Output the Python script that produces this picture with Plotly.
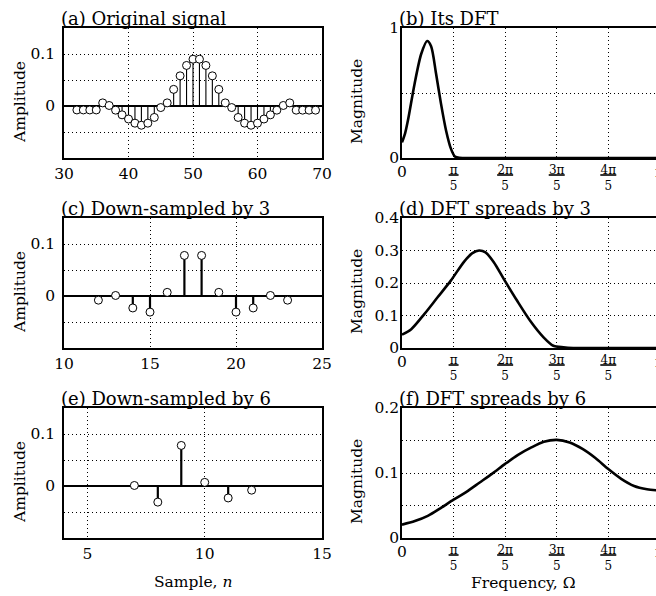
import math
import plotly.graph_objects as go

# ---------------- data ----------------
# (a) original signal, samples n = 32..69
n_a = list(range(32, 70))
x_a = [-0.0076, -0.0076, -0.0076, -0.0076, 0.006, 0.001, -0.008, -0.017, -0.025, -0.033,
       -0.037, -0.033, -0.022, -0.003, 0.006, 0.032, 0.058, 0.078, 0.090, 0.090,
       0.078, 0.058, 0.032, 0.006, -0.003, -0.022, -0.033, -0.037, -0.033, -0.025,
       -0.017, -0.008, 0.001, 0.006, -0.008, -0.008, -0.008, -0.008]

# (c) down-sampled by 3
n_c = list(range(12, 24))
x_c = [-0.008, 0.001, -0.023, -0.031, 0.007, 0.078, 0.078, 0.007, -0.031, -0.023, 0.001, -0.008]

# (e) down-sampled by 6
n_e = list(range(7, 13))
x_e = [0.001, -0.031, 0.078, 0.007, -0.023, -0.008]

# DFT magnitudes, frequency in units of pi
w_b = [0, 0.012, 0.0231, 0.0487, 0.0744, 0.0974, 0.1128, 0.132, 0.151, 0.171, 0.190, 0.205, 0.222, 0.25, 0.5, 1.0]
m_b = [0.12, 0.19, 0.29, 0.57, 0.80, 0.90, 0.86, 0.65, 0.42, 0.21, 0.07, 0.012, 0.001, 0, 0, 0]

w_d = [0, 0.0359, 0.0872, 0.138, 0.190, 0.241, 0.273, 0.299, 0.324, 0.356, 0.395, 0.446,
       0.497, 0.549, 0.587, 0.626, 0.664, 0.75, 1.0]
m_d = [0.041, 0.058, 0.105, 0.156, 0.208, 0.266, 0.292, 0.300, 0.294, 0.264, 0.212, 0.146,
       0.084, 0.033, 0.007, 0.002, 0, 0, 0]

w_f = [0, 0.05, 0.1, 0.15, 0.2, 0.25, 0.3, 0.35, 0.4, 0.45, 0.5, 0.55, 0.6, 0.65, 0.7,
       0.75, 0.8, 0.85, 0.9, 0.95, 1.0]
m_f = [0.0205, 0.026, 0.034, 0.046, 0.059, 0.071, 0.085, 0.099, 0.114, 0.128, 0.139, 0.148, 0.151,
       0.147, 0.137, 0.123, 0.106, 0.091, 0.080, 0.075, 0.073]

titles = ["(a) Original signal", "(b) Its DFT", "(c) Down-sampled by 3",
          "(d) DFT spreads by 3", "(e) Down-sampled by 6", "(f) DFT spreads by 6"]
freq_ticks = [0, 1, 2, 3, 4]          # multiples of pi/5
freq_num = ["", "π", "2π", "3π", "4π"]
freq_den = "5"
bar_half = [0, 5, 8, 8, 8]            # half-width of fraction bars (px)

# ---------------- figure ----------------
FONT = "DejaVu Serif"
W, H = 656, 596
fig = go.Figure()

LEFT = [64 / W, 322 / W]
RIGHT = [402 / W, 1.0]
ROWS = [[1 - 158 / H, 1 - 28 / H], [1 - 348 / H, 1 - 218 / H], [1 - 538 / H, 1 - 408 / H]]
XMAX = 0.985 * math.pi


def stems(n, v, xa, ya, lw):
    xs, ys = [], []
    for a, b in zip(n, v):
        xs += [a, a, None]
        ys += [0, b, None]
    fig.add_trace(go.Scatter(x=xs, y=ys, mode="lines", line=dict(color="black", width=lw),
                             xaxis=xa, yaxis=ya, showlegend=False, hoverinfo="skip"))
    fig.add_trace(go.Scatter(x=n, y=v, mode="markers",
                             marker=dict(symbol="circle", size=8, color="white",
                                         line=dict(color="black", width=1)),
                             xaxis=xa, yaxis=ya, showlegend=False, cliponaxis=False))


def curve(w, m, xa, ya):
    fig.add_trace(go.Scatter(x=[a * math.pi for a in w], y=m, mode="lines",
                             line=dict(color="black", width=2.6, shape="spline", smoothing=0.8),
                             xaxis=xa, yaxis=ya, showlegend=False))


stems(n_a, x_a, "x", "y", 1.1)
curve(w_b, m_b, "x2", "y2")
stems(n_c, x_c, "x3", "y3", 2.2)
curve(w_d, m_d, "x4", "y4")
stems(n_e, x_e, "x5", "y5", 2.2)
curve(w_f, m_f, "x6", "y6")

tickfont = dict(family=FONT, size=15.5, color="black")
common = dict(showline=True, linecolor="black", linewidth=1.5, showgrid=True,
              gridcolor="black", gridwidth=1, griddash="1px,3px", ticks="",
              zeroline=False, tickfont=tickfont, fixedrange=True, automargin=False)

layout_axes = {}
x_left = [dict(range=[30, 70], tickvals=[30, 40, 50, 60, 70]),
          dict(range=[10, 25], tickvals=[10, 15, 20, 25]),
          dict(range=[4, 15], tickvals=[5, 10, 15])]
y_right = [dict(range=[0, 1], tickvals=[0, 0.5, 1], ticktext=["0", "", "1"]),
           dict(range=[0, 0.4], tickvals=[0, 0.1, 0.2, 0.3, 0.4], ticktext=["0", "0.1", "0.2", "0.3", "0.4"]),
           dict(range=[0, 0.2], tickvals=[0, 0.05, 0.1, 0.15, 0.2], ticktext=["0", "", "0.1", "", "0.2"])]

freq_text = [("%s<br>%s" % (nm, freq_den)) if nm else "" for nm in freq_num]

for r in range(3):
    il = 2 * r + 1
    ir = 2 * r + 2
    sl = "" if il == 1 else str(il)
    sr = str(ir)
    layout_axes["xaxis" + sl] = dict(common, domain=LEFT, anchor="y" + sl, mirror=True,
                                     ticklabelstandoff=1, **x_left[r])
    layout_axes["yaxis" + sl] = dict(common, domain=ROWS[r], anchor="x" + sl, mirror=True,
                                     range=[-0.1, 0.15], tickvals=[-0.05, 0, 0.05, 0.1],
                                     ticktext=["", "0", "", "0.1"], ticklabelstandoff=4,
                                     zeroline=True, zerolinecolor="black", zerolinewidth=2)
    layout_axes["xaxis" + sr] = dict(common, domain=RIGHT, anchor="y" + sr, mirror=True,
                                     range=[0, XMAX],
                                     tickvals=[k * math.pi / 5 for k in freq_ticks],
                                     ticktext=freq_text, ticklabelstandoff=0,
                                     tickfont=dict(family=FONT, size=12, color="black"))
    layout_axes["yaxis" + sr] = dict(common, domain=ROWS[r], anchor="x" + sr, mirror=False,
                                     ticklabelstandoff=-2, **y_right[r])

annotations = []
shapes = []
axis_ids = ["", "2", "3", "4", "5", "6"]
for i, t in enumerate(titles):
    a = axis_ids[i]
    annotations.append(dict(text=t, xref=("x" + a + " domain"), yref=("y" + a + " domain"),
                            x=0, y=1, xanchor="left", yanchor="bottom", xshift=-5, yshift=-3,
                            showarrow=False, font=dict(family=FONT, size=18, color="black")))
    lab = "Amplitude" if i % 2 == 0 else "Magnitude"
    annotations.append(dict(text=lab, xref=("x" + a + " domain"), yref=("y" + a + " domain"),
                            x=0, y=0.5, xanchor="center", yanchor="middle", textangle=-90,
                            xshift=(-44 if i % 2 == 0 else -45), yshift=-9, showarrow=False,
                            font=dict(family=FONT, size=15.5, color="black")))
    if i % 2 == 1:
        # "0" label at origin and clipped "π" label at the right edge
        annotations.append(dict(text="0", xref=("x" + a + " domain"), yref=("y" + a + " domain"),
                                x=0, y=0, xanchor="center", yanchor="top", yshift=-3,
                                showarrow=False, font=dict(family=FONT, size=15.5, color="black")))
        annotations.append(dict(text="π", xref=("x" + a + " domain"), yref=("y" + a + " domain"),
                                x=math.pi / XMAX, y=0, xanchor="center", yanchor="top", yshift=-3,
                                showarrow=False, font=dict(family=FONT, size=15.5, color="black")))
        for k, hw in zip(freq_ticks, bar_half):
            if hw == 0:
                continue
            xd = (k * math.pi / 5) / XMAX
            shapes.append(dict(type="line", xref=("x" + a + " domain"), yref=("y" + a + " domain"),
                               xsizemode="pixel", xanchor=xd, x0=-hw, x1=hw,
                               ysizemode="pixel", yanchor=0, y0=-17, y1=-17,
                               line=dict(color="black", width=1.6)))

annotations.append(dict(text="Sample, <i>n</i>", xref="x5 domain", yref="y5 domain", x=0.5, y=0,
                        xanchor="center", yanchor="middle", yshift=-44, showarrow=False,
                        font=dict(family=FONT, size=15.5, color="black")))
annotations.append(dict(text="Frequency, Ω", xref="x6 domain", yref="y6 domain", x=0.475, y=0,
                        xanchor="center", yanchor="middle", yshift=-45, showarrow=False,
                        font=dict(family=FONT, size=15.5, color="black")))

fig.update_layout(width=W, height=H, margin=dict(l=0, r=0, t=0, b=0, autoexpand=False),
                  paper_bgcolor="white", plot_bgcolor="white",
                  annotations=annotations, shapes=shapes, **layout_axes)

fig.write_html("out.html")
